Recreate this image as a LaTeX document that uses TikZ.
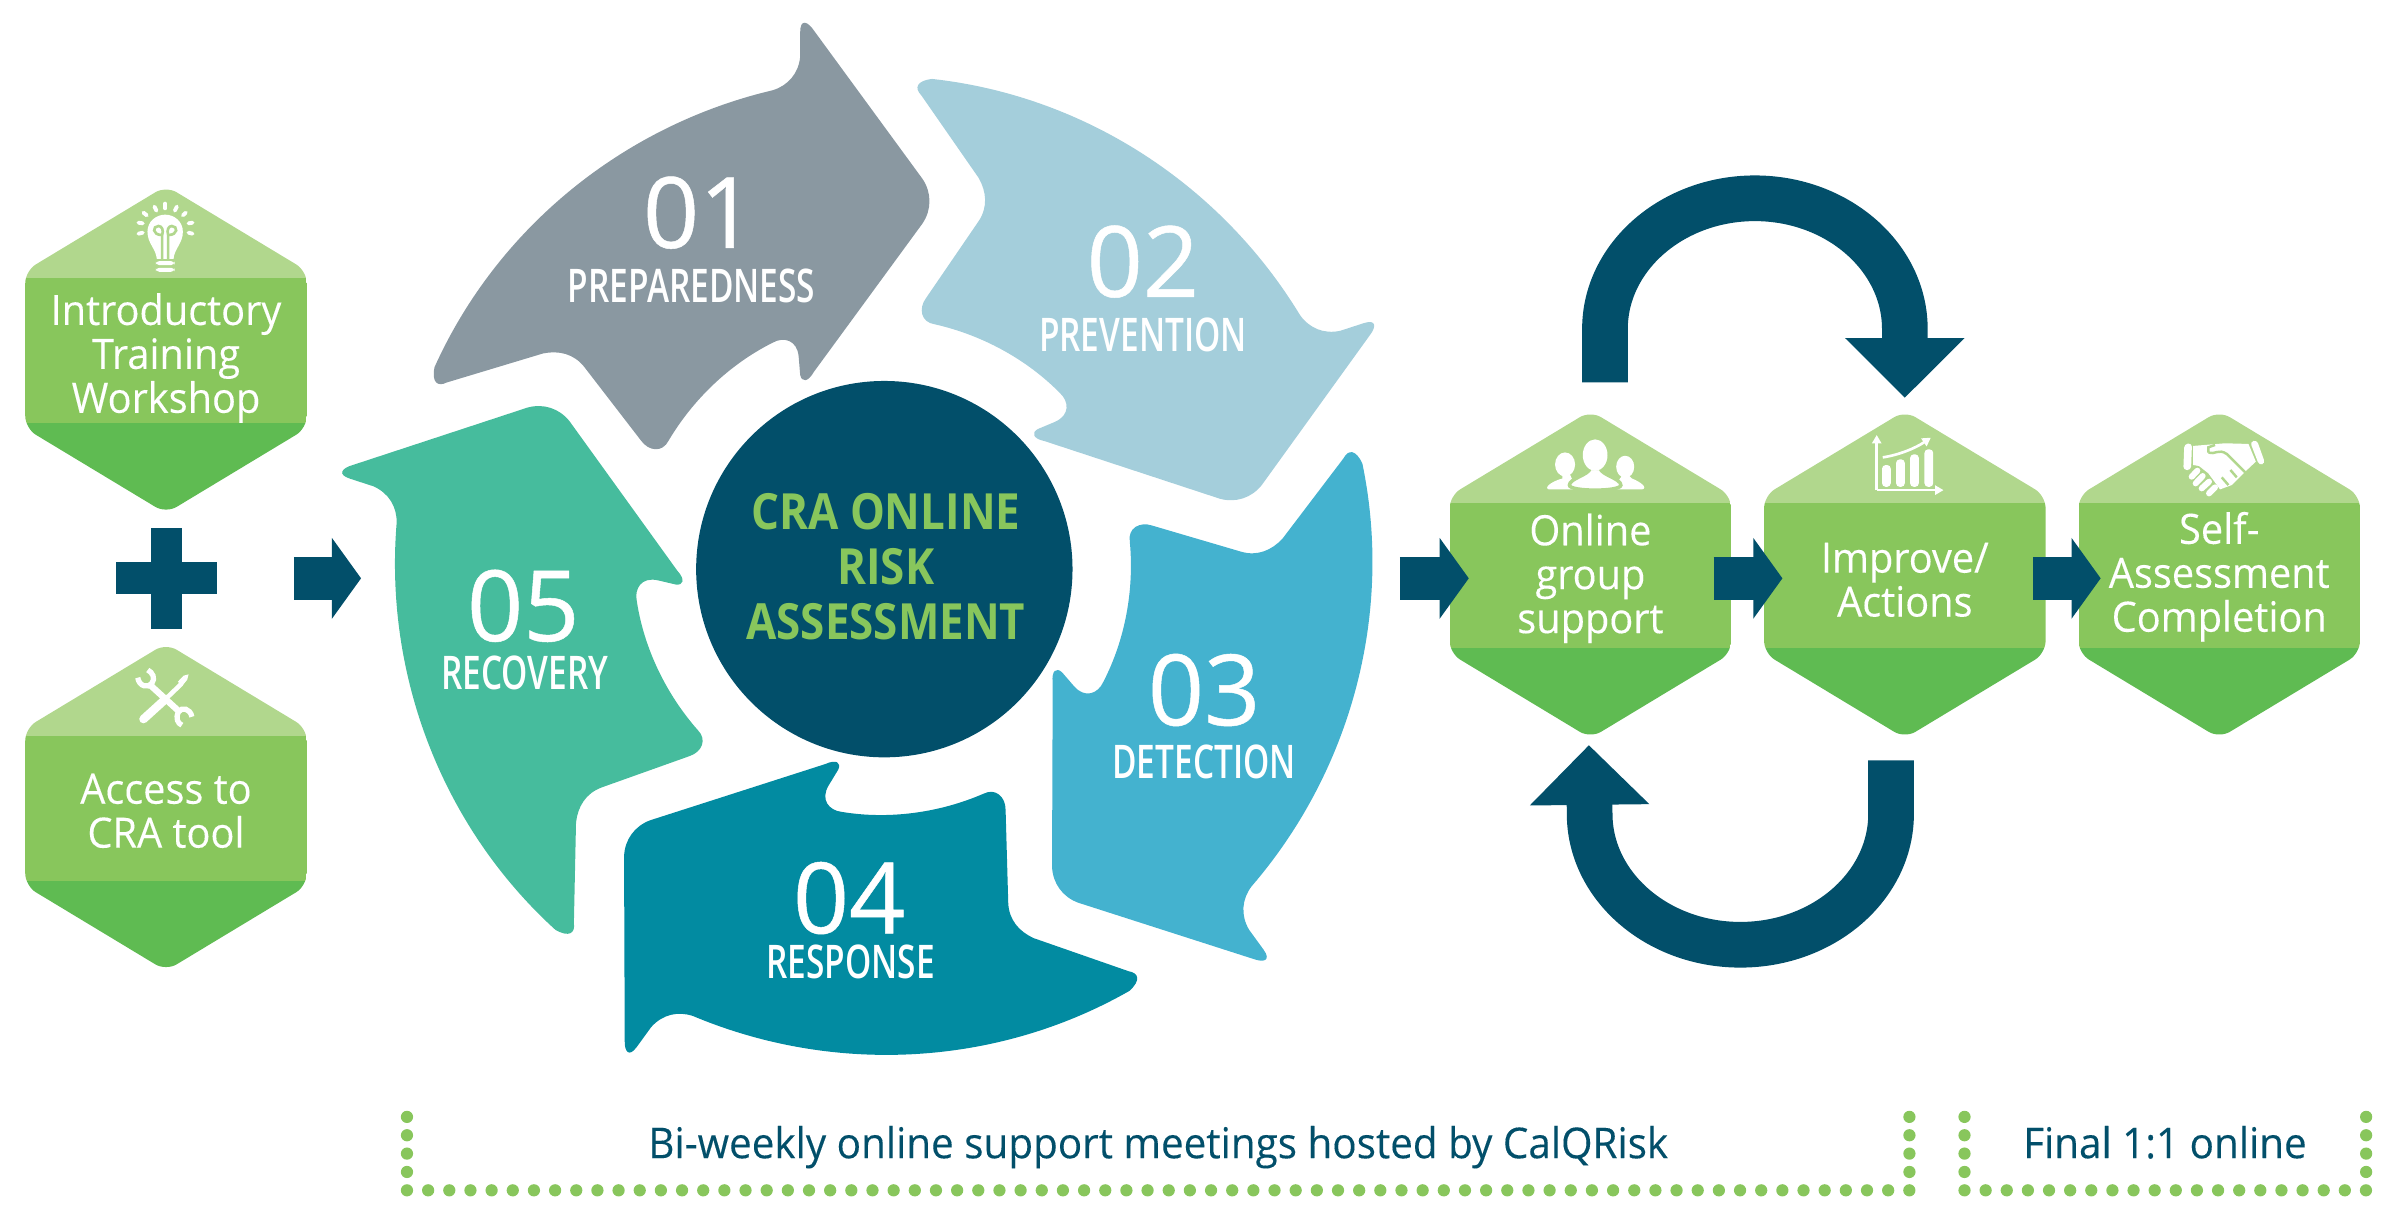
\documentclass[tikz,border=0pt]{standalone}
\usepackage{fontspec}
\usetikzlibrary{arrows.meta}
\newfontfamily\hexfont[FakeStretch=0.95,FakeBold=0.2]{Open Sans}
\newfontfamily\dinfont[FakeStretch=0.72]{Open Sans Semibold}
\newfontfamily\hubfont[FakeStretch=0.88]{Open Sans}
\newfontfamily\numfont[FakeBold=0.5]{Open Sans}
\definecolor{navy}{HTML}{024F6A}
\definecolor{hexlight}{HTML}{B1D78D}
\definecolor{hexmid}{HTML}{88C65C}
\definecolor{hexdark}{HTML}{5FBB52}
\definecolor{petalgray}{HTML}{8A98A1}
\definecolor{petalpale}{HTML}{A4CEDB}
\definecolor{petalblue}{HTML}{44B2CF}
\definecolor{petalteal}{HTML}{028BA1}
\definecolor{petalgreen}{HTML}{46BC9D}

\tikzset{
  hextext/.style={white, font=\hexfont\fontsize{11.9}{12.5}\selectfont, align=center, inner sep=0pt},
  numtext/.style={white, font=\numfont\fontsize{28}{28}\selectfont, inner sep=0pt},
  titletext/.style={white, font=\dinfont\fontsize{13.2}{14}\selectfont, inner sep=0pt},
  hubtext/.style={hexmid, font=\hubfont\bfseries\fontsize{14.2}{15.6}\selectfont, align=center, inner sep=0pt},
  notetext/.style={navy, font=\hexfont\fontsize{12.1}{14}\selectfont, inner sep=0pt, anchor=base},
  blockarrow/.style={navy, line width=12.2pt, -{Triangle[length=8.3pt,width=22.6pt]}},
  looparrow/.style={navy, line width=13pt, -{Triangle[length=17pt,width=33pt]}},
  iconline/.style={white, line cap=round},
  iconpx/.style={x=0.003335cm, y=-0.003335cm},
  tinyarrow/.style={white, line width=0.75pt, -{Triangle[length=2.4pt,width=2.6pt]}},
}

% one petal of the wheel, the others are this one turned
\newcommand{\petal}{
  (505,59) .. controls (407.5,82) and (325,149) .. (284,240)
  .. controls (282,250) and (286,253) .. (292,250)
  -- (355,231) .. controls (365,229) and (375,231) .. (382,240)
  -- (419,288) .. controls (424,295) and (433,296) .. (437,288)
  .. controls (453,261) and (477,238) .. (505,224)
  .. controls (512,220) and (521,222) .. (522,233)
  -- (523,245) .. controls (524,250) and (528,250) .. (532,243)
  -- (603,146) .. controls (609,137) and (609,126) .. (603,117)
  -- (532,20) .. controls (528,14) and (523,12) .. (523,21)
  -- (523,37) .. controls (522,48) and (515,56) .. (505,59) -- cycle
}

% name, centre x, apex y, text y below apex, text
\newcommand{\hexblock}[5]{
  \begin{scope}[shift={(#2,#3)}]
    \begin{scope}
      \clip[rounded corners=3.5pt] (0,-2.5) -- (92,53) -- (92,156) -- (0,211.5) -- (-92,156) -- (-92,53) -- cycle;
      \fill[hexlight] (-92,-3) rectangle (92,58);
      \fill[hexmid] (-92,58) rectangle (92,152.5);
      \fill[hexdark] (-92,152.5) rectangle (92,212);
    \end{scope}
    \node[hextext] (#1) at (0,#4) {#5};
  \end{scope}
}

\begin{document}
\begin{tikzpicture}[x=0.0153cm, y=-0.0153cm]
\useasboundingbox (0,0) rectangle (1568,801.2);

% wheel
\coordinate (hub) at (578,372);
\fill[petalgray] \petal;
\fill[petalpale, shift={(-3.5,0)}, rotate around={-72:(578,372)}] \petal;
\fill[petalblue, shift={(-3,-3)}, rotate around={-144:(578,372)}] \petal;
\fill[petalteal, shift={(0,-4)}, rotate around={-216:(578,372)}] \petal;
\fill[petalgreen, shift={(1.5,-3)}, rotate around={-288:(578,372)}] \petal;
\fill[navy] (hub) circle[radius=123];
\node[hubtext] (cra) at (579,370.5) {CRA ONLINE\\RISK\\ASSESSMENT};

\node[numtext] (num1) at (457,139) {01};
\node[titletext] (prep) at (452,187) {PREPAREDNESS};
\node[numtext] (num2) at (747,171) {02};
\node[titletext] (prev) at (747,219) {PREVENTION};
\node[numtext] (num3) at (787,451) {03};
\node[titletext] (detect) at (787,498) {DETECTION};
\node[numtext] (num4) at (555,587) {04};
\node[titletext] (resp) at (556,629) {RESPONSE};
\node[numtext] (num5) at (342,396) {05};
\node[titletext] (recov) at (343,440) {RECOVERY};

% hexagons
\hexblock{intro}{108.5}{124}{110}{Introductory\\Training\\Workshop}
\hexblock{access}{108.5}{423}{107}{Access to\\CRA tool}
\hexblock{group}{1039.5}{271}{107}{Online\\group\\support}
\hexblock{improve}{1245}{271}{108}{Improve/\\Actions}
\hexblock{selfa}{1450.5}{271}{106}{Self-\\Assessment\\Completion}

% plus
\fill[navy] (98.7,345) rectangle (119,411);
\fill[navy] (75.8,367.4) rectangle (141.8,388);

% arrows
\coordinate (a1) at (192,378);  \coordinate (a2) at (236,378);
\coordinate (b1) at (915,378);  \coordinate (b2) at (960,378);
\coordinate (c1) at (1120,378); \coordinate (c2) at (1165,378);
\coordinate (d1) at (1329,378); \coordinate (d2) at (1373,378);
\draw[blockarrow] (a1) -- (a2);
\draw[blockarrow] (b1) -- (b2);
\draw[blockarrow] (c1) -- (c2);
\draw[blockarrow] (d1) -- (d2);

\coordinate (top1) at (1049,250);  \coordinate (top2) at (1245,260);
\coordinate (low1) at (1236,497);  \coordinate (low2) at (1038.5,487);
\draw[looparrow] (top1) -- (1049,215)
  .. controls (1049,168) and (1093,129.6) .. (1147,129.6)
  .. controls (1201,129.6) and (1245,168) .. (1245,215) -- (top2);
\draw[looparrow] (low1) -- (1236,532)
  .. controls (1236,579) and (1192,617.5) .. (1137.5,617.5)
  .. controls (1083,617.5) and (1039,579) .. (1039,532) -- (low2);

% dotted brackets
\foreach \i in {0,...,71} \fill[hexmid] ({266+\i*13.83},778) circle[radius=4];
\foreach \i in {0,...,3} {
  \fill[hexmid] (266,{730+\i*12}) circle[radius=4];
  \fill[hexmid] (1248,{730+\i*12}) circle[radius=4];
  \fill[hexmid] (1284,{730+\i*12}) circle[radius=4];
  \fill[hexmid] (1546.5,{730+\i*12}) circle[radius=4];
}
\foreach \i in {0,...,19} \fill[hexmid] ({1284+\i*13.81},778) circle[radius=4];
\node[notetext] (biweekly) at (757,757) {Bi-weekly online support meetings hosted by CalQRisk};
\node[notetext] (final) at (1415,757) {Final 1:1 online};

% bulb
\begin{scope}[shift={(75.2,117.6)}, iconpx]
  \foreach \a/\b/\c/\d in {150/71/150/85, 118/80/124/92, 85/98/95/106, 70/128/83/130, 70/161/83/158, 185/80/179/92, 212/98/203/106, 232/128/220/130, 232/161/220/158}
    \draw[iconline, line width=1.1pt] (\a,\b) -- (\c,\d);
  \fill[white] (125,236) .. controls (122,205) and (97,190) .. (97,155)
    .. controls (97,125) and (122,104) .. (150,104)
    .. controls (178,104) and (203,125) .. (203,155)
    .. controls (203,190) and (178,205) .. (175,236) -- cycle;
  \draw[hexlight, line width=0.75pt] (141,236) -- (141,165) (159,236) -- (159,165)
    (141,165) .. controls (110,165) and (112,138) .. (130,138) .. controls (140,138) and (146,150) .. (141,165)
    (159,165) .. controls (190,165) and (188,138) .. (170,138) .. controls (160,138) and (154,150) .. (159,165);
  \fill[white, rounded corners=1pt] (122,243) rectangle (178,255);
  \fill[white, rounded corners=1pt] (122,263) rectangle (178,275);
\end{scope}

% wrench and screwdriver
\begin{scope}[shift={(75.2,428.1)}, iconpx]
  \draw[white, line width=1.8pt] (103,88) -- (195,172);
  \draw[white, line width=1.5pt] (68,68) .. controls (72,95) and (100,100) .. (110,85)
    .. controls (122,70) and (112,52) .. (98,45);
  \draw[white, line width=1.5pt] (230,185) .. controls (225,160) and (200,155) .. (190,170)
    .. controls (180,190) and (188,205) .. (200,210);
  \draw[iconline, line width=2.4pt] (85,192) -- (150,133);
  \draw[iconline, line width=1.3pt] (150,133) -- (197,88);
  \fill[white] (188,80) -- (205,62) -- (220,58) -- (216,74) -- (200,94) -- cycle;
\end{scope}

% people
\begin{scope}[shift={(1000,277.8)}, iconpx]
  \fill[white] (105,118) ellipse[x radius=30, y radius=36];
  \fill[white] (97,145) -- (118,145) -- (130,170) -- (135,193) -- (58,193)
    .. controls (40,190) and (60,170) .. (97,160) -- cycle;
  \fill[white] (285,125) ellipse[x radius=27, y radius=33];
  \fill[white] (277,150) -- (295,150) -- (305,160)
    .. controls (330,170) and (355,188) .. (335,193) -- (258,193) -- (262,170) -- cycle;
  \draw[white, fill=white, draw=hexlight, line width=1pt] (180,130) -- (210,130)
    .. controls (215,150) and (272,160) .. (272,180)
    .. controls (272,200) and (118,200) .. (118,180)
    .. controls (118,160) and (175,150) .. (180,130) -- cycle;
  \fill[white] (195,90) ellipse[x radius=37, y radius=47];
\end{scope}

% chart
\begin{scope}[shift={(1215.7,274.5)}, iconpx]
  \draw[tinyarrow] (50,210) -- (50,45);
  \draw[tinyarrow] (50,210) -- (250,210);
  \fill[white, rounded corners=1pt] (66,135) rectangle (92,200);
  \fill[white, rounded corners=1pt] (108,118) rectangle (134,200);
  \fill[white, rounded corners=1pt] (150,103) rectangle (176,200);
  \fill[white, rounded corners=1pt] (193,88) rectangle (219,200);
  \draw[tinyarrow] (68,112) .. controls (115,105) and (165,85) .. (212,53);
\end{scope}

% handshake
\begin{scope}[shift={(1415,281)}, iconpx]
  \fill[white, rounded corners=1pt] (58,42) -- (81,40) -- (78,120) -- (55,120) -- cycle;
  \fill[white, rounded corners=1pt] (255,36) -- (275,30) -- (300,100) -- (282,106) -- cycle;
  \fill[white] (84,48) -- (180,40) -- (250,42) -- (272,95) -- (240,125) -- (200,165) -- (165,178) -- (130,130) -- (102,108) -- (84,105) -- cycle;
  \draw[hexlight, line width=0.7pt] (130,68) .. controls (150,75) and (160,55) .. (185,72) -- (240,127);
  \draw[hexlight, line width=0.7pt] (130,68) -- (130,52) -- (150,45);
  \draw[hexlight, line width=0.7pt] (196,120) -- (215,142) (170,142) -- (190,165);
  \draw[iconline, line width=1.7pt] (80,140) -- (97,122);
  \draw[iconline, line width=1.7pt] (92,160) -- (113,138);
  \draw[iconline, line width=1.7pt] (110,175) -- (132,155);
  \draw[iconline, line width=1.7pt] (132,190) -- (150,172);
\end{scope}
\end{tikzpicture}
\end{document}
